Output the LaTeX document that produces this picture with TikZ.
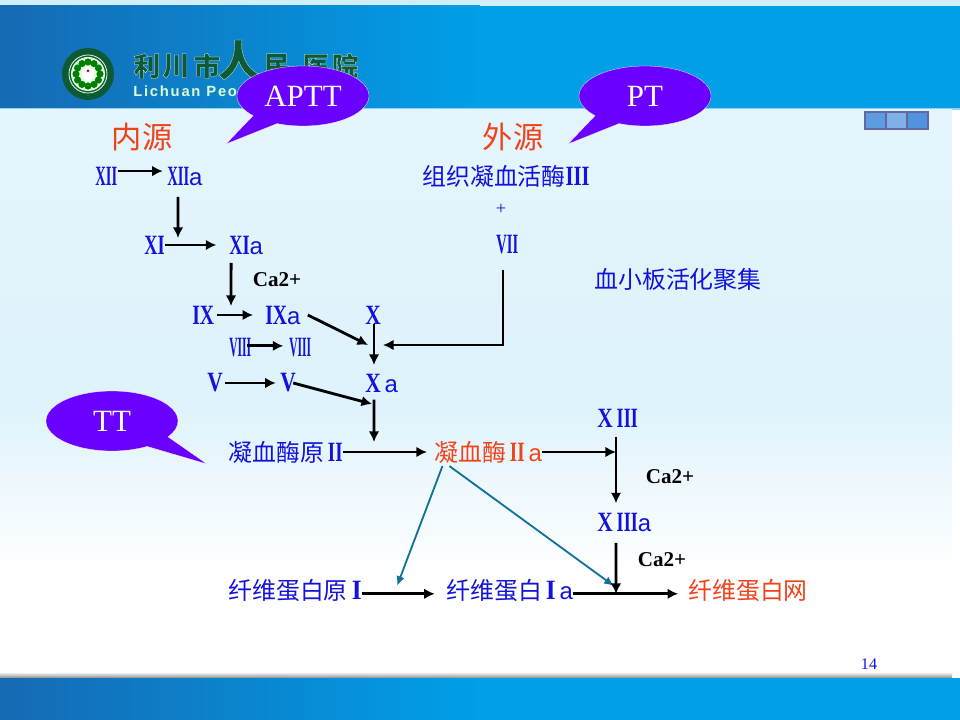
\documentclass[tikz,border=0pt]{standalone}
\usepackage{graphicx}
\usepackage{fontspec}
\setmainfont{Liberation Serif}
\newfontfamily\cjk{Noto Sans CJK SC}
\newfontfamily\latin{Liberation Sans}
\newfontfamily\logosans[LetterSpace=12]{Liberation Sans}
\usetikzlibrary{shapes.callouts,arrows.meta}
\definecolor{factorblue}{HTML}{1212DC}
\definecolor{redorange}{HTML}{F0431A}
\definecolor{bubbleviolet}{HTML}{6A00FF}
\definecolor{tealline}{HTML}{12709C}
\definecolor{skyblue}{HTML}{009FE8}
\definecolor{deepblue}{HTML}{166AB4}
\definecolor{logogreen}{HTML}{0E5A34}
\newcommand{\rn}[2][15.6pt]{\resizebox{#1}{13pt}{\bfseries #2}}
\newcommand{\suba}{{\latin a}}
\newcommand{\outlined}[1]{\special{pdf:code q 2 Tr 0.15 w 1 1 1 RG}#1\special{pdf:code Q}}
\tikzset{
 factor/.style={anchor=west,inner sep=0pt,text=factorblue,font=\fontsize{17}{20}\selectfont},
 product/.style={factor,text=redorange},
 title/.style={inner sep=0pt,text=redorange,font=\cjk\fontsize{21.5}{24}\selectfont},
 ion/.style={inner sep=0pt,font=\bfseries\fontsize{15}{16}\selectfont},
 bubble/.style={ellipse callout,draw=white,very thin,fill=bubbleviolet,text=white,inner sep=0pt,
  minimum width=3.3cm,minimum height=1.5cm,callout pointer arc=26,font=\fontsize{22}{24}\selectfont},
 flow/.style={-{Latex[length=7.5pt,width=7.5pt]},line width=2pt,black},
 tealflow/.style={-{Latex[length=7pt,width=6pt]},line width=1.3pt,tealline},
 logochar/.style={inner sep=0pt,text=logogreen,font=\cjk\bfseries\fontsize{19}{20}\selectfont},
 panel/.style={draw=black!60!blue!60,line width=1.2pt}
}
\begin{document}
\begin{tikzpicture}[x=0.025cm,y=-0.025cm]
 \useasboundingbox (0,0) rectangle (960,720);
 \fill[white] (0,0) rectangle (960,720);
 \fill[skyblue!18] (0,0) rectangle (960,6);
 \shade[left color=deepblue,right color=skyblue] (0,6) rectangle (480,108);
 \fill[skyblue] (480,6) rectangle (960,108);
 \fill[skyblue!45] (0,108) rectangle (960,110);
 \shade[top color=skyblue!10,bottom color=skyblue!13] (0,110) rectangle (952,400);
 \shade[top color=skyblue!13,bottom color=white] (0,400) rectangle (952,575);
 \shade[top color=white,bottom color=black!45] (0,672) rectangle (952,678);
 \shade[left color=deepblue,right color=skyblue] (0,678) rectangle (480,720);
 \fill[skyblue] (480,678) rectangle (960,720);

 \fill[logogreen] (88,74) circle (26);
 \draw[white!80!green,line width=0.6pt] (88,74) circle (19);
 \fill[white!90!green] (88,74) circle (17);
 \foreach \ang in {0,30,...,330} {
  \fill[green!50!black] (88,74) ++(\ang:-12) circle (3.6);
 }
 \fill[white] (88,74) circle (6.5);
 \fill[red!70!black] (88,71) circle (1.5);

 \foreach \ch/\xpos in {利/147,川/176,市/207,民/277,医/316,院/345} {
  \node[logochar] at (\xpos,66) {\outlined{\ch}};
 }
 \node[logochar,font=\cjk\bfseries\fontsize{30}{32}\selectfont] at (239,60) {\outlined{人}};
 \node[inner sep=0pt,anchor=west,text=white!85!green,font=\logosans\bfseries\fontsize{10.5}{12}\selectfont] (logoname) at (133,91) {Lichuan Peo};

 \node[bubble,callout absolute pointer={(226,144)}] (aptt) at (303,96) {APTT};
 \node[bubble,callout absolute pointer={(568,144)}] (pt) at (645,96) {PT};
 \node[bubble,callout absolute pointer={(207,464)}] (tt) at (112,421) {TT};

 \foreach \xpos/\cellcolor in {865/5C9CE0,886/80B0E8,907/5094E0} {
  \definecolor{cellfill}{HTML}{\cellcolor}
  \draw[panel,fill=cellfill] (\xpos,112) rectangle (\xpos+21,129);
 }

 \node[title] (inner) at (142,137) {内源};
 \node[title] (outer) at (513,137) {外源};
 \node[factor] (xii) at (95,176) {\rn{XII}};
 \node[factor] (xiia) at (167,176) {\rn{XII}\suba};
 \node[factor] (xi) at (144,245) {\rn[14.5pt]{XI}};
 \node[factor] (xia) at (229,245) {\rn[14.5pt]{XI}\suba};
 \node[factor] (ix) at (192,315) {\rn{IX}};
 \node[factor] (ixa) at (265,315) {\rn{IX}\suba};
 \node[factor] (x) at (365,315) {\rn[11pt]{X}};
 \node[factor] (viiia) at (229,348) {\rn{VIII}};
 \node[factor] (viiib) at (289,348) {\rn{VIII}};
 \node[factor] (va) at (207,383) {\rn[11pt]{V}};
 \node[factor] (vb) at (280,383) {\rn[11pt]{V}};
 \node[factor] (xa) at (365,383) {\rn[11pt]{X}\,\suba};
 \node[factor] (pro) at (228,452) {{\cjk 凝血酶原}\,\rn[10.5pt]{II}};
 \node[product] (thr) at (434,452) {{\cjk 凝血酶}\,\rn[10.5pt]{II}\,\suba};
 \node[factor] (xiii) at (597,418) {\rn[11pt]{X}\,\rn[15pt]{III}};
 \node[factor] (xiiia) at (597,522) {\rn[11pt]{X}\,\rn[15pt]{III}\suba};
 \node[factor] (tf) at (422,176) {{\cjk 组织凝血活酶}\rn[17pt]{III}};
 \node[factor,anchor=center] (plus) at (501,209) {\fontsize{13}{14}\selectfont +};
 \node[factor] (vii) at (496,245) {\rn{VII}};
 \node[factor] (plate) at (594,280) {\cjk 血小板活化聚集};
 \node[factor] (fib) at (228,591) {{\cjk 纤维蛋白原}\,\rn[7pt]{I}};
 \node[factor] (fibn) at (446,591) {{\cjk 纤维蛋白}\,\rn[7pt]{I}\,\suba};
 \node[product] (net) at (688,591) {\cjk 纤维蛋白网};
 \node[ion] (caa) at (277,280) {Ca2+};
 \node[ion] (cab) at (670,477) {Ca2+};
 \node[ion] (cac) at (662,560) {Ca2+};
 \node[inner sep=0pt,text=factorblue,font=\fontsize{11.5}{13}\selectfont] (page) at (869,664) {14};

 \coordinate (xijoin) at (178,238);
 \coordinate (ixjoin) at (231,306);
 \coordinate (xleft) at (368,345);
 \coordinate (xright) at (383,345);
 \coordinate (vjoin) at (372,404);
 \coordinate (thrjoin) at (374,442);
 \coordinate (xiiijoin) at (616,452);
 \coordinate (netjoin) at (616,594);
 \coordinate (fibjoin) at (397,586);
 \coordinate (netteal) at (614,586);

 \draw[tealflow] ([xshift=6pt,yshift=-2pt]thr.south west) -- (fibjoin);
 \draw[tealflow] ([xshift=11pt,yshift=-2pt]thr.south west) -- (netteal);

 \draw[flow] ([yshift=3.5pt]xii.east) -- ([xshift=-3pt,yshift=3.5pt]xiia.west);
 \draw[flow] ([xshift=7.8pt,yshift=-8pt]xiia.south west) -- (xijoin);
 \draw[flow,shorten >=9pt] (xi.east) -- (xia.west);
 \draw[flow] ([xshift=1.5pt,yshift=-6pt]xia.south west) -- (ixjoin);
 \draw[flow,shorten <=1.5pt,shorten >=8.5pt] (ix.east) -- (ixa.west);
 \draw[flow] ([xshift=5pt]ixa.east) -- (xleft);
 \draw[flow] ([xshift=6.4pt]x.south west) -- ([xshift=6.4pt,yshift=6pt]xa.north west);
 \draw[flow] ([xshift=5pt,yshift=-11pt]vii.south west) |- (xright);
 \draw[flow] ([xshift=-3.5pt,yshift=1.5pt]viiia.east) -- ([xshift=-4pt,yshift=1.5pt]viiib.west);
 \draw[flow,shorten <=1.5pt,shorten >=3pt] (va.east) -- (vb.west);
 \draw[flow] ([xshift=-2pt]vb.east) -- (vjoin);
 \draw[flow] ([xshift=6.4pt,yshift=-5pt]xa.south west) -- (thrjoin);
 \draw[flow,shorten >=5pt] (pro.east) -- (thr.west);
 \draw[flow] (thr.east) -- (xiiijoin);
 \draw[flow] ([xshift=13.5pt,yshift=-6.5pt]xiii.south west) -- ([xshift=13.5pt,yshift=6.5pt]xiiia.north west);
 \draw[flow] ([xshift=13.5pt,yshift=-8pt]xiiia.south west) -- (netjoin);
 \draw[flow,shorten >=8pt] ([yshift=-2pt]fib.east) -- ([yshift=-2pt]fibn.west);
 \draw[flow,shorten >=7pt] ([yshift=-2pt]fibn.east) -- ([yshift=-2pt]net.west);
\end{tikzpicture}
\end{document}
